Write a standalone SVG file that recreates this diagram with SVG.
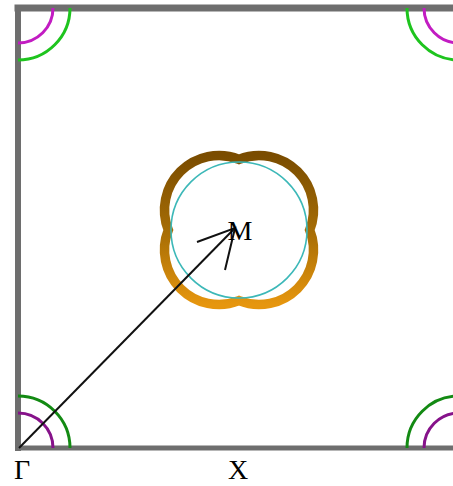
<svg xmlns="http://www.w3.org/2000/svg" width="453" height="486" viewBox="0 0 453 486">
<style>
.frame{stroke:#6e6e6e;fill:none;stroke-linecap:square}
.arc{fill:none;stroke-width:3}
.mag{stroke:#c21cc2}
.magd{stroke:#86128a}
.grn{stroke:#1ec41e}
.grnd{stroke:#138a13}
.lbl{font-family:"Liberation Serif","Times New Roman",serif;font-size:28px;fill:#000}
.conn{stroke:#111;stroke-width:2;fill:none}
</style>
<defs>
<linearGradient id="fsg" x1="0" y1="0" x2="0" y2="1">
<stop offset="0" stop-color="#7a4c00"/>
<stop offset="0.5" stop-color="#a56c05"/>
<stop offset="1" stop-color="#e6960e"/>
</linearGradient>
</defs>
<rect width="453" height="486" fill="#fff"/>
<g id="frame">
<line class="frame" x1="18" y1="8" x2="460" y2="8" stroke-width="7"/>
<line class="frame" x1="18" y1="8" x2="18" y2="448" stroke-width="6"/>
<line class="frame" x1="18" y1="448" x2="460" y2="448" stroke-width="5"/>
</g>
<g id="corner-arcs">
<path class="arc mag" d="M18,43 A35,35 0 0 0 53,8"/>
<path class="arc grn" d="M18,60 A52,52 0 0 0 70,8"/>
<path class="arc mag" d="M424,8 A35,35 0 0 0 459,43"/>
<path class="arc grn" d="M407,8 A52,52 0 0 0 459,60"/>
<path class="arc magd" d="M18,413 A35,35 0 0 1 53,448"/>
<path class="arc grnd" d="M18,396 A52,52 0 0 1 70,448"/>
<path class="arc magd" d="M424,448 A35,35 0 0 1 459,413"/>
<path class="arc grnd" d="M407,448 A52,52 0 0 1 459,396"/>
</g>
<g id="fermi-M">
<path d="M239,159.3 A54.5,54.5 0 0 1 309.7,230 A54.5,54.5 0 0 1 239,300.7 A54.5,54.5 0 0 1 168.3,230 A54.5,54.5 0 0 1 239,159.3 Z" fill="none" stroke="url(#fsg)" stroke-width="9.5"/>
<circle cx="239" cy="230" r="68" fill="none" stroke="#3cb8b8" stroke-width="1.6"/>
</g>
<g id="connectors">
<line class="conn" x1="19" y1="448" x2="235" y2="228"/>
<polyline class="conn" points="197,242 235,228 225,270"/>
</g>
<g id="labels">
<text class="lbl" x="240" y="240" text-anchor="middle">M</text>
<text class="lbl" x="14" y="479">Γ</text>
<text class="lbl" x="238" y="479" text-anchor="middle">X</text>
</g>
</svg>
